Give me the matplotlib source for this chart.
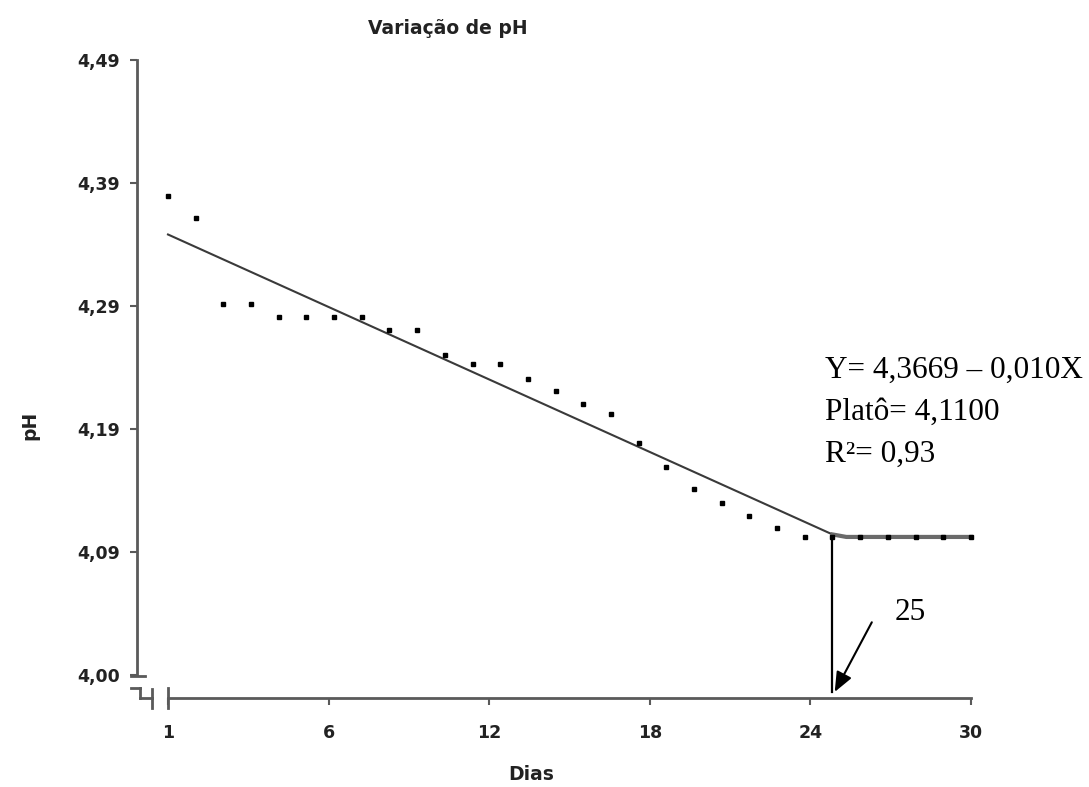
import matplotlib
matplotlib.use("Agg")
import matplotlib.pyplot as plt
import numpy as np
from matplotlib.lines import Line2D

# ---- data ----
dias = list(range(1, 31))
ph = [4.382, 4.364, 4.296, 4.296, 4.285, 4.285, 4.285, 4.285, 4.275, 4.275,
      4.255, 4.248, 4.248, 4.236, 4.226, 4.216, 4.208, 4.185, 4.166, 4.148,
      4.137, 4.127, 4.117, 4.110, 4.110, 4.110, 4.110, 4.110, 4.110, 4.110]
fit_x = [1, 25]
fit_y = [4.351, 4.112]
plateau_x = [25.5, 30]
plateau_y = [4.110, 4.110]
break_day = 25
plateau = 4.110
ytick_vals = list(np.linspace(4.00, 4.49, 6))
ytick_labels = ["4,00", "4,09", "4,19", "4,29", "4,39", "4,49"]
xtick_vals = list(np.linspace(1, 30, 6))
xtick_labels = ["1", "6", "12", "18", "24", "30"]
eq_lines = ["Y= 4,3669 \u2013 0,010X", "Plat\u00f4= 4,1100", "R\u00b2= 0,93"]

W, H = 1089, 787
fig = plt.figure(figsize=(W / 100, H / 100), dpi=100)

def fx(px):
    return px / W

def fy(py):
    return 1 - py / H

ax_left, ax_right, ax_top, ax_bot = 137, 1000, 50, 698
ax = fig.add_axes([fx(ax_left), fy(ax_bot), (ax_right - ax_left) / W, (ax_bot - ax_top) / H])
ax.set_xlim(-0.1195, 31.05)
ax.set_ylim(3.98167, 4.498)

ax.spines["top"].set_visible(False)
ax.spines["right"].set_visible(False)
spc = "#5a5a5a"
for s in ("left", "bottom"):
    ax.spines[s].set_color(spc)
    ax.spines[s].set_linewidth(2.0)
ax.spines["left"].set_bounds(4.00, 4.49)
ax.spines["bottom"].set_bounds(1, 30)

sans = {"family": "DejaVu Sans", "weight": "bold"}
ax.set_yticks(ytick_vals)
ax.set_yticklabels(ytick_labels, fontdict=dict(sans, size=12.5))
ax.set_xticks(xtick_vals)
ax.set_xticklabels(xtick_labels, fontdict=dict(sans, size=12.5))
ax.tick_params(axis="both", direction="out", length=5, width=1.5, color=spc)
ax.tick_params(axis="y", pad=7)
ax.tick_params(axis="x", pad=14)
for lab in ax.get_xticklabels() + ax.get_yticklabels():
    lab.set_color("#222222")

# fit line and plateau
ax.plot(fit_x, fit_y, color="#3a3a3a", lw=1.5, zorder=2)
ax.plot([fit_x[-1]] + plateau_x, [fit_y[-1]] + plateau_y, color="#6a6a6a", lw=3.0, zorder=2)
# points
ax.plot(dias, ph, linestyle="none", marker="s", markersize=3.2, color="black", zorder=3, clip_on=False)

# drop line at break day
ax.plot([break_day, break_day], [plateau, 3.9865], color="black", lw=1.6, zorder=2)
# arrow
ax.annotate("", xy=(break_day + 0.08, 3.9865), xytext=(26.42, 4.042),
            arrowprops=dict(arrowstyle="-|>,head_length=1.2,head_width=0.5", color="black", lw=1.5,
                            shrinkA=0, shrinkB=0))
serif = {"family": "Liberation Serif", "size": 22.5}
ax.text(27.25, 4.050, "25", va="center", ha="left", **serif)

for i, line in enumerate(eq_lines):
    ax.text(24.73, 4.243 - i * 0.0337, line, va="center", ha="left", **serif)

# axis break decorations
def seg(x0, y0, x1, y1, lw=2.0):
    fig.add_artist(Line2D([fx(x0), fx(x1)], [fy(y0), fy(y1)], color=spc, lw=lw,
                          transform=fig.transFigure))

seg(131, 676, 145, 676)          # cap at 4,00
seg(131, 688, 140, 688)
seg(140, 688, 140, 698)
seg(140, 698, 152, 698)
seg(152, 689, 152, 708)
seg(168, 688, 168, 708)          # cap at day 1

# titles
fig.text(fx(448), fy(28), "Varia\u00e7\u00e3o de pH", ha="center", va="center", color="#222222",
         fontdict=dict(sans, size=13.5))
fig.text(fx(531), fy(775), "Dias", ha="center", va="center", color="#222222",
         fontdict=dict(sans, size=13.5))
fig.text(fx(30), fy(425), "pH", ha="center", va="center", rotation=90, color="#222222",
         fontdict=dict(sans, size=13.5))

fig.savefig("out.png", dpi=100, facecolor="white")
